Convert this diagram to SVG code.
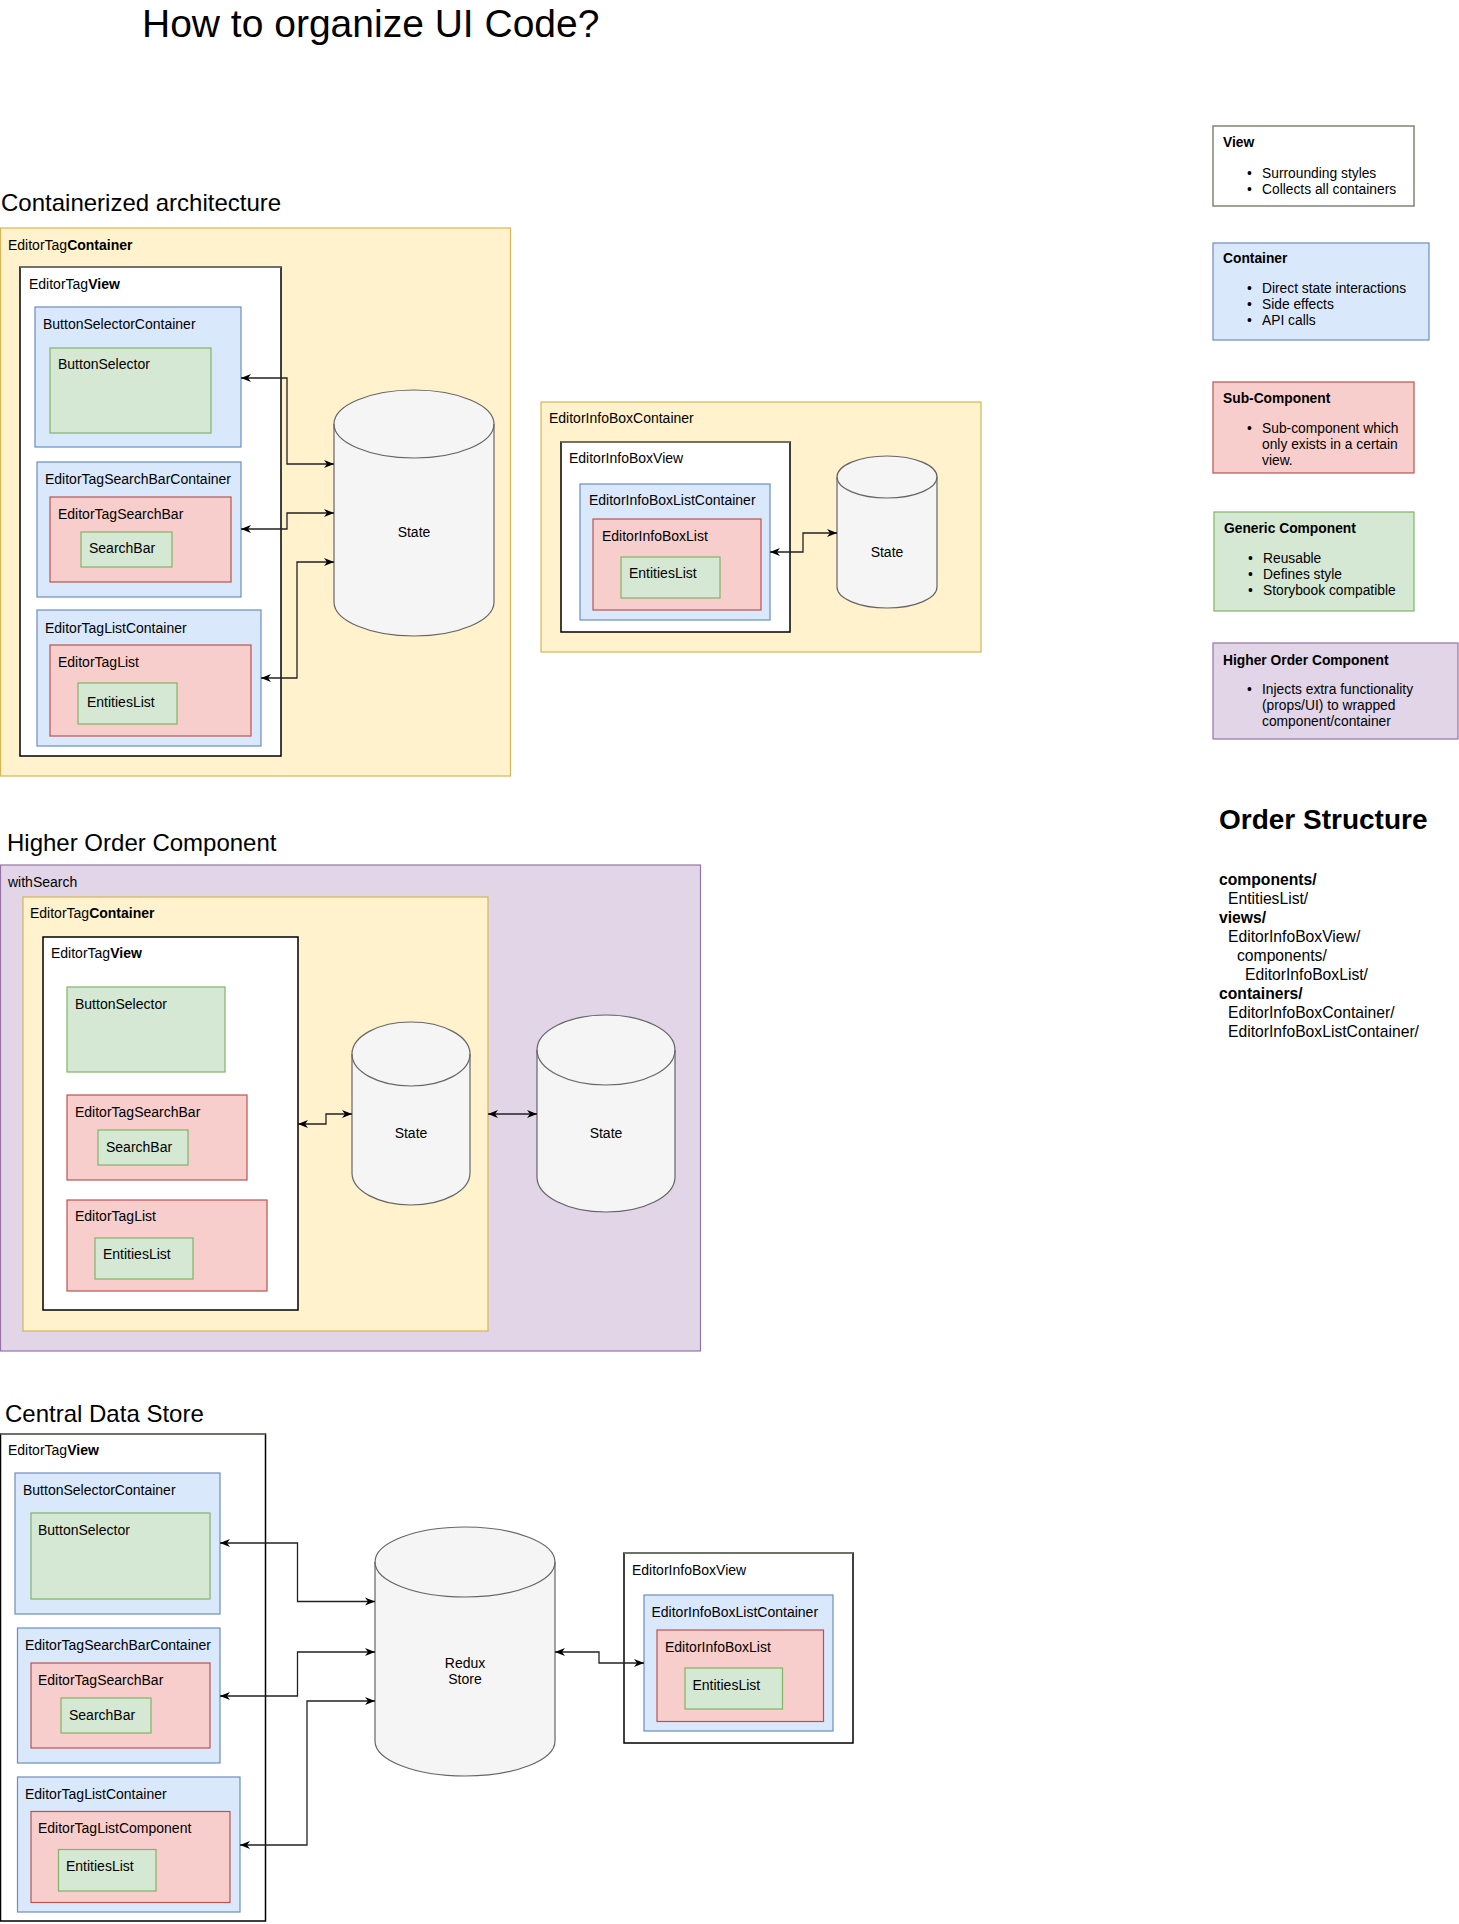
<svg xmlns="http://www.w3.org/2000/svg" width="1459" height="1924" viewBox="0 0 1459 1924">
<style>
text{font-family:"Liberation Sans",Arial,Helvetica,sans-serif;fill:#000}
.l{font-size:14px}
.h{font-size:24px}
.b{font-weight:bold}
.yel{fill:#fff2cc;stroke:#d6b656;stroke-width:1.2}
.blu{fill:#dae8fc;stroke:#6c8ebf;stroke-width:1.2}
.red{fill:#f8cecc;stroke:#b85450;stroke-width:1.2}
.grn{fill:#d5e8d4;stroke:#82b366;stroke-width:1.2}
.pur{fill:#e1d5e7;stroke:#9673a6;stroke-width:1.2}
.view{fill:#fff;stroke:#000;stroke-width:1.5}
.vtop{stroke:#7d8775;stroke-width:1.6;fill:none}
.cyl{fill:#f5f5f5;stroke:#666;stroke-width:1.2}
.cylf{fill:none;stroke:#666;stroke-width:1.2}
.e{fill:none;stroke:#222;stroke-width:1.3;marker-start:url(#a);marker-end:url(#a)}
.leg{font-size:13.8px}
.ord{font-size:15.7px}
</style>
<defs>
<marker id="a" viewBox="0 0 10 10" refX="10" refY="5" markerWidth="10" markerHeight="10" markerUnits="userSpaceOnUse" orient="auto-start-reverse">
<path d="M0,1 L10,5 L0,9 L3,5 z" fill="#000"/>
</marker>
</defs>

<text x="142" y="37" style="font-size:39px">How to organize UI Code?</text>
<text x="1" y="211" class="h">Containerized architecture</text>
<text x="7" y="851" class="h">Higher Order Component</text>
<text x="5" y="1422" class="h">Central Data Store</text>

<!-- Section 1 -->
<g id="s1-EditorTagContainer"><rect class="yel" x="0.5" y="228" width="510" height="548"/><text class="l" x="8" y="250">EditorTag<tspan class="b">Container</tspan></text></g>
<g id="s1-EditorTagView"><rect class="view" x="20" y="267" width="261" height="489"/><line class="vtop" x1="20" y1="267" x2="281" y2="267"/><text class="l" x="29" y="289">EditorTag<tspan class="b">View</tspan></text></g>
<g id="s1-ButtonSelectorContainer"><rect class="blu" x="35" y="307" width="206" height="140"/><text class="l" x="43" y="329">ButtonSelectorContainer</text></g>
<g id="s1-ButtonSelector"><rect class="grn" x="50" y="348" width="161" height="85"/><text class="l" x="58" y="369">ButtonSelector</text></g>
<g id="s1-EditorTagSearchBarContainer"><rect class="blu" x="37" y="462" width="204" height="135"/><text class="l" x="45" y="484">EditorTagSearchBarContainer</text></g>
<g id="s1-EditorTagSearchBar"><rect class="red" x="50" y="497" width="181" height="85"/><text class="l" x="58" y="519">EditorTagSearchBar</text></g>
<g id="s1-SearchBar"><rect class="grn" x="81" y="532" width="91" height="35"/><text class="l" x="89" y="553">SearchBar</text></g>
<g id="s1-EditorTagListContainer"><rect class="blu" x="37" y="610" width="224" height="136"/><text class="l" x="45" y="633">EditorTagListContainer</text></g>
<g id="s1-EditorTagList"><rect class="red" x="50" y="645" width="201" height="91"/><text class="l" x="58" y="667">EditorTagList</text></g>
<g id="s1-EntitiesList"><rect class="grn" x="78" y="683" width="99" height="41"/><text class="l" x="87" y="707">EntitiesList</text></g>
<g id="s1-State"><path class="cyl" d="M334,424 A80,34 0 0 1 494,424 L494,602 A80,34 0 0 1 334,602 Z"/><path class="cylf" d="M334,424 A80,34 0 0 0 494,424"/><text class="l" x="414" y="537" text-anchor="middle">State</text></g>

<!-- InfoBox section -->
<g id="s1-EditorInfoBoxContainer"><rect class="yel" x="541" y="402" width="440" height="250"/><text class="l" x="549" y="423">EditorInfoBoxContainer</text></g>
<g id="s1-EditorInfoBoxView"><rect class="view" x="561" y="442" width="229" height="190"/><line class="vtop" x1="561" y1="442" x2="790" y2="442"/><text class="l" x="569" y="463">EditorInfoBoxView</text></g>
<g id="s1-EditorInfoBoxListContainer"><rect class="blu" x="580" y="484" width="190" height="136"/><text class="l" x="589" y="505">EditorInfoBoxListContainer</text></g>
<g id="s1-EditorInfoBoxList"><rect class="red" x="593" y="519" width="168" height="91"/><text class="l" x="602" y="541">EditorInfoBoxList</text></g>
<g id="s1-EntitiesList2"><rect class="grn" x="621" y="557" width="99" height="41"/><text class="l" x="629" y="578">EntitiesList</text></g>
<g id="s1-State2"><path class="cyl" d="M837,477 A50,21 0 0 1 937,477 L937,587 A50,21 0 0 1 837,587 Z"/><path class="cylf" d="M837,477 A50,21 0 0 0 937,477"/><text class="l" x="887" y="557" text-anchor="middle">State</text></g>

<!-- Legend -->
<g id="legend-view"><rect x="1213" y="126" width="201" height="80" fill="#fff" stroke="#7d8775" stroke-width="1.5"/>
<text class="leg b" x="1223" y="147">View</text>
<text class="leg" x="1247" y="178">•</text><text class="leg" x="1262" y="178">Surrounding styles</text>
<text class="leg" x="1247" y="194">•</text><text class="leg" x="1262" y="194">Collects all containers</text></g>
<g id="legend-container"><rect class="blu" x="1213" y="243" width="216" height="97"/>
<text class="leg b" x="1223" y="263">Container</text>
<text class="leg" x="1247" y="293">•</text><text class="leg" x="1262" y="293">Direct state interactions</text>
<text class="leg" x="1247" y="309">•</text><text class="leg" x="1262" y="309">Side effects</text>
<text class="leg" x="1247" y="325">•</text><text class="leg" x="1262" y="325">API calls</text></g>
<g id="legend-sub"><rect class="red" x="1213" y="382" width="201" height="91"/>
<text class="leg b" x="1223" y="403">Sub-Component</text>
<text class="leg" x="1247" y="433">•</text><text class="leg" x="1262" y="433">Sub-component which</text>
<text class="leg" x="1262" y="449">only exists in a certain</text>
<text class="leg" x="1262" y="465">view.</text></g>
<g id="legend-generic"><rect class="grn" x="1214" y="512" width="200" height="99"/>
<text class="leg b" x="1224" y="533">Generic Component</text>
<text class="leg" x="1248" y="563">•</text><text class="leg" x="1263" y="563">Reusable</text>
<text class="leg" x="1248" y="579">•</text><text class="leg" x="1263" y="579">Defines style</text>
<text class="leg" x="1248" y="595">•</text><text class="leg" x="1263" y="595">Storybook compatible</text></g>
<g id="legend-hoc"><rect class="pur" x="1213" y="643" width="245" height="96"/>
<text class="leg b" x="1223" y="665">Higher Order Component</text>
<text class="leg" x="1247" y="694">•</text><text class="leg" x="1262" y="694">Injects extra functionality</text>
<text class="leg" x="1262" y="710">(props/UI) to wrapped</text>
<text class="leg" x="1262" y="726">component/container</text></g>

<g id="order-structure">
<text x="1219" y="829" style="font-size:28px;font-weight:bold">Order Structure</text>
<text class="ord b" x="1219" y="885">components/</text>
<text class="ord" x="1228" y="904">EntitiesList/</text>
<text class="ord b" x="1219" y="923">views/</text>
<text class="ord" x="1228" y="942">EditorInfoBoxView/</text>
<text class="ord" x="1237" y="961">components/</text>
<text class="ord" x="1245" y="980">EditorInfoBoxList/</text>
<text class="ord b" x="1219" y="999">containers/</text>
<text class="ord" x="1228" y="1018">EditorInfoBoxContainer/</text>
<text class="ord" x="1228" y="1037">EditorInfoBoxListContainer/</text>
</g>

<!-- HOC section -->
<g id="s2-withSearch"><rect class="pur" x="0.5" y="865" width="700" height="486"/><text class="l" x="8" y="887">withSearch</text></g>
<g id="s2-EditorTagContainer"><rect class="yel" x="23" y="897" width="465" height="434"/><text class="l" x="30" y="918">EditorTag<tspan class="b">Container</tspan></text></g>
<g id="s2-EditorTagView"><rect class="view" x="43" y="937" width="255" height="373"/><text class="l" x="51" y="958">EditorTag<tspan class="b">View</tspan></text></g>
<g id="s2-ButtonSelector"><rect class="grn" x="67" y="987" width="158" height="85"/><text class="l" x="75" y="1009">ButtonSelector</text></g>
<g id="s2-EditorTagSearchBar"><rect class="red" x="67" y="1095" width="180" height="85"/><text class="l" x="75" y="1117">EditorTagSearchBar</text></g>
<g id="s2-SearchBar"><rect class="grn" x="98" y="1130" width="90" height="35"/><text class="l" x="106" y="1152">SearchBar</text></g>
<g id="s2-EditorTagList"><rect class="red" x="67" y="1200" width="200" height="91"/><text class="l" x="75" y="1221">EditorTagList</text></g>
<g id="s2-EntitiesList"><rect class="grn" x="95" y="1238" width="98" height="41"/><text class="l" x="103" y="1259">EntitiesList</text></g>
<g id="s2-State1"><path class="cyl" d="M352,1054 A59,32 0 0 1 470,1054 L470,1173 A59,32 0 0 1 352,1173 Z"/><path class="cylf" d="M352,1054 A59,32 0 0 0 470,1054"/><text class="l" x="411" y="1138" text-anchor="middle">State</text></g>
<g id="s2-State2"><path class="cyl" d="M537,1050 A69,35 0 0 1 675,1050 L675,1177 A69,35 0 0 1 537,1177 Z"/><path class="cylf" d="M537,1050 A69,35 0 0 0 675,1050"/><text class="l" x="606" y="1138" text-anchor="middle">State</text></g>

<!-- Central Data Store -->
<g id="s3-EditorTagView"><rect class="view" x="0.5" y="1434" width="265" height="487"/><line class="vtop" x1="0.5" y1="1434" x2="265.5" y2="1434"/><text class="l" x="8" y="1455">EditorTag<tspan class="b">View</tspan></text></g>
<g id="s3-ButtonSelectorContainer"><rect class="blu" x="15" y="1473" width="205" height="141"/><text class="l" x="23" y="1495">ButtonSelectorContainer</text></g>
<g id="s3-ButtonSelector"><rect class="grn" x="31" y="1513" width="179" height="86"/><text class="l" x="38" y="1535">ButtonSelector</text></g>
<g id="s3-EditorTagSearchBarContainer"><rect class="blu" x="17.5" y="1628" width="202.5" height="135"/><text class="l" x="25" y="1650">EditorTagSearchBarContainer</text></g>
<g id="s3-EditorTagSearchBar"><rect class="red" x="31" y="1663" width="179" height="85"/><text class="l" x="38" y="1685">EditorTagSearchBar</text></g>
<g id="s3-SearchBar"><rect class="grn" x="61" y="1698" width="90" height="35"/><text class="l" x="69" y="1720">SearchBar</text></g>
<g id="s3-EditorTagListContainer"><rect class="blu" x="17.5" y="1777" width="222.5" height="135"/><text class="l" x="25" y="1799">EditorTagListContainer</text></g>
<g id="s3-EditorTagListComponent"><rect class="red" x="31" y="1811.5" width="199" height="91"/><text class="l" x="38" y="1833">EditorTagListComponent</text></g>
<g id="s3-EntitiesList"><rect class="grn" x="58.5" y="1849.5" width="97.5" height="41.5"/><text class="l" x="66" y="1871">EntitiesList</text></g>
<g id="s3-ReduxStore"><path class="cyl" d="M375,1562 A90,35 0 0 1 555,1562 L555,1741 A90,35 0 0 1 375,1741 Z"/><path class="cylf" d="M375,1562 A90,35 0 0 0 555,1562"/><text class="l" x="465" y="1668" text-anchor="middle">Redux</text><text class="l" x="465" y="1684" text-anchor="middle">Store</text></g>
<g id="s3-EditorInfoBoxView"><rect class="view" x="624" y="1553" width="229" height="190"/><line class="vtop" x1="624" y1="1553" x2="853" y2="1553"/><text class="l" x="632" y="1575">EditorInfoBoxView</text></g>
<g id="s3-EditorInfoBoxListContainer"><rect class="blu" x="644" y="1595" width="189" height="136"/><text class="l" x="651.5" y="1617">EditorInfoBoxListContainer</text></g>
<g id="s3-EditorInfoBoxList"><rect class="red" x="657" y="1630" width="166.5" height="91.5"/><text class="l" x="665" y="1652">EditorInfoBoxList</text></g>
<g id="s3-EntitiesList2"><rect class="grn" x="685" y="1668" width="97.5" height="41"/><text class="l" x="692.5" y="1690">EntitiesList</text></g>

<g id="connectors">
<path class="e" d="M241,378 H287 V464 H334"/>
<path class="e" d="M241,529 H287 V513 H334"/>
<path class="e" d="M261,678 H297 V562 H334"/>
<path class="e" d="M770,552 H803 V533 H837"/>
<path class="e" d="M298,1124 H326 V1114 H352"/>
<path class="e" d="M488,1114 H537"/>
<path class="e" d="M220,1543 H297.5 V1601.5 H375"/>
<path class="e" d="M220,1696 H297.5 V1652 H375"/>
<path class="e" d="M240,1845 H307 V1701 H375"/>
<path class="e" d="M555,1652 H599 V1663 H644"/>
</g>
</svg>
